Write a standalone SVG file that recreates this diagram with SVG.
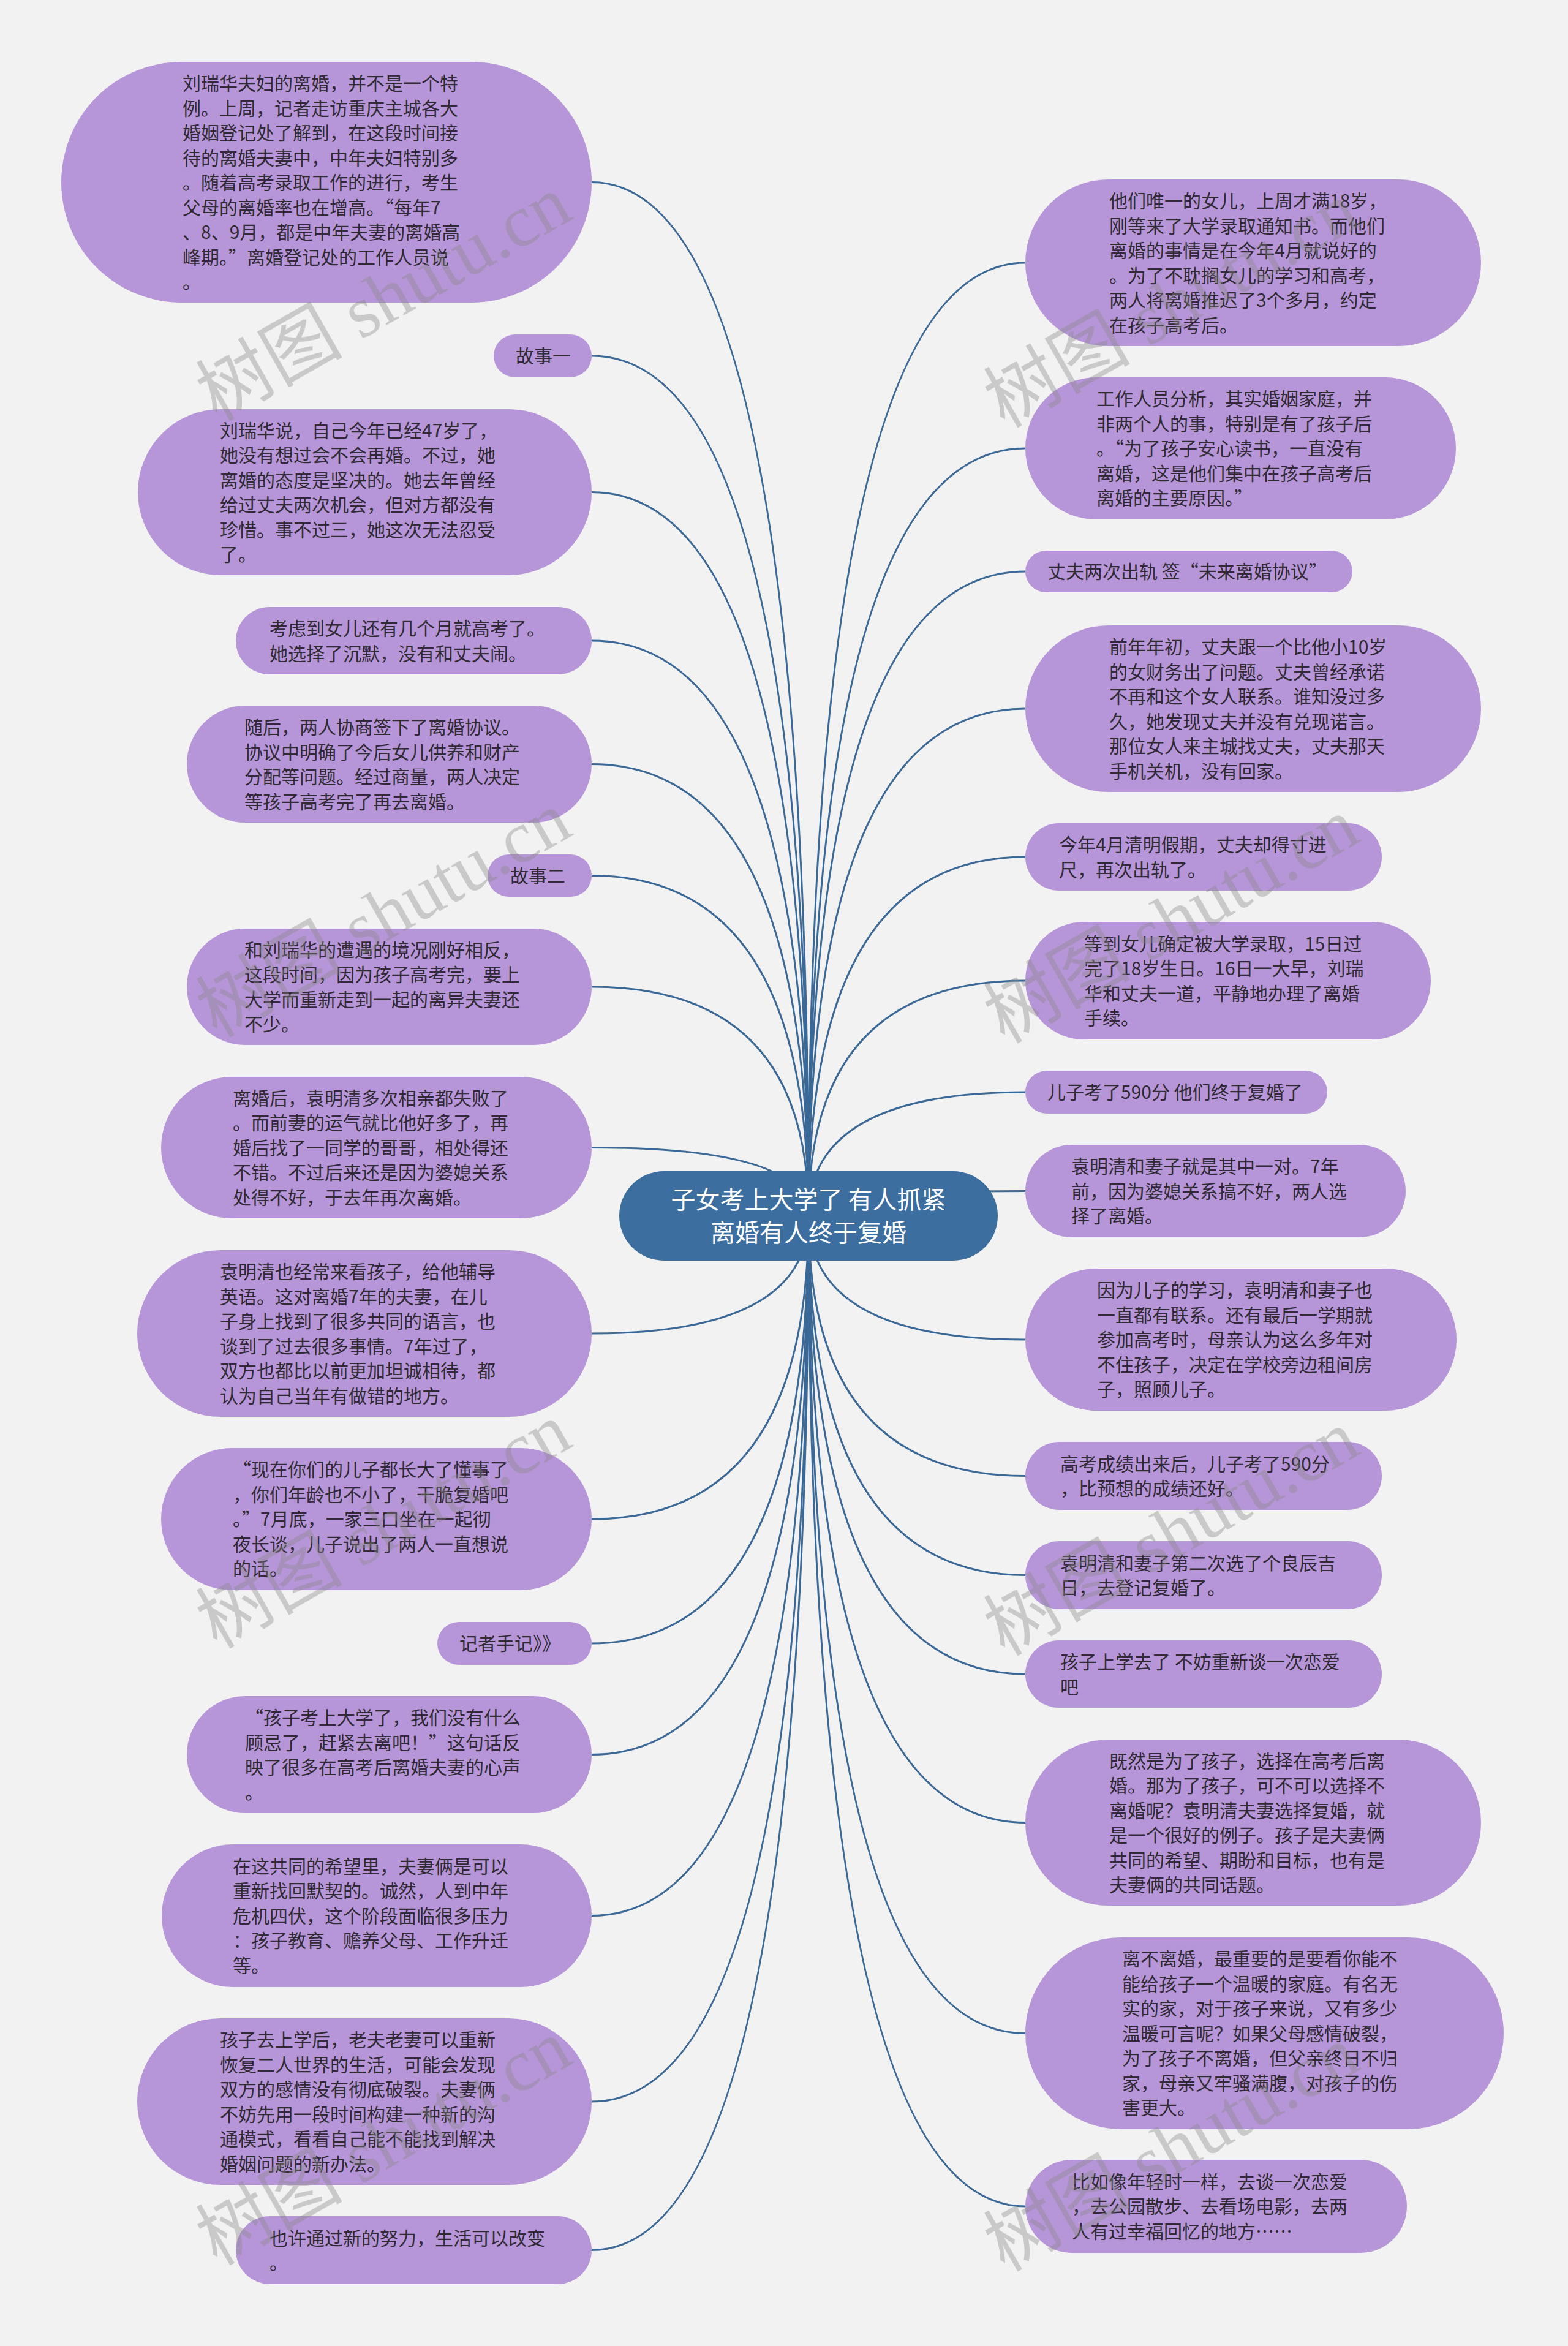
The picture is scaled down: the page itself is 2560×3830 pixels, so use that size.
<svg xmlns="http://www.w3.org/2000/svg" width="2560" height="3830" viewBox="0 0 2560 3830">
<style>
.bg{fill:#f2f2f2}
.n rect{fill:#b696d8}
.n text{font-family:"Noto Sans CJK SC","Microsoft YaHei",sans-serif;font-size:30px;fill:#2f2a33}
.q{font-feature-settings:"fwid" 1}
.root rect{fill:#3c6ea0}
.root text{font-family:"Noto Sans CJK SC","Microsoft YaHei",sans-serif;font-size:40px;fill:#ffffff;text-anchor:middle}
.c path{fill:none;stroke:#3a6897;stroke-width:3}
.wm text{font-family:"Liberation Serif","Noto Sans CJK SC",serif;font-size:120px;fill:#888888;opacity:0.38}
</style>
<rect class="bg" x="0" y="0" width="2560" height="3830"/>
<g id="connectors" class="c">
<path d="M1320 1985 Q1320 297.5 966 297.5"/>
<path d="M1320 1985 Q1320 581 966 581"/>
<path d="M1320 1985 Q1320 803.5 966 803.5"/>
<path d="M1320 1985 Q1320 1046 966 1046"/>
<path d="M1320 1985 Q1320 1247.5 966 1247.5"/>
<path d="M1320 1985 Q1320 1429.5 966 1429.5"/>
<path d="M1320 1985 Q1320 1611 966 1611"/>
<path d="M1320 1985 Q1320 1873.5 966 1873.5"/>
<path d="M1320 1985 Q1320 2177 966 2177"/>
<path d="M1320 1985 Q1320 2480 966 2480"/>
<path d="M1320 1985 Q1320 2683 966 2683"/>
<path d="M1320 1985 Q1320 2864.5 966 2864.5"/>
<path d="M1320 1985 Q1320 3127.5 966 3127.5"/>
<path d="M1320 1985 Q1320 3431 966 3431"/>
<path d="M1320 1985 Q1320 3673.5 966 3673.5"/>
<path d="M1320 1985 Q1320 429 1674 429"/>
<path d="M1320 1985 Q1320 732 1674 732"/>
<path d="M1320 1985 Q1320 933 1674 933"/>
<path d="M1320 1985 Q1320 1157 1674 1157"/>
<path d="M1320 1985 Q1320 1399 1674 1399"/>
<path d="M1320 1985 Q1320 1601 1674 1601"/>
<path d="M1320 1985 Q1320 1783 1674 1783"/>
<path d="M1320 1985 Q1320 1944.5 1674 1944.5"/>
<path d="M1320 1985 Q1320 2187 1674 2187"/>
<path d="M1320 1985 Q1320 2409.5 1674 2409.5"/>
<path d="M1320 1985 Q1320 2571.5 1674 2571.5"/>
<path d="M1320 1985 Q1320 2733 1674 2733"/>
<path d="M1320 1985 Q1320 2975.5 1674 2975.5"/>
<path d="M1320 1985 Q1320 3319.5 1674 3319.5"/>
<path d="M1320 1985 Q1320 3602 1674 3602"/>
</g>

<g id="root" class="root">
<rect x="1011" y="1912" width="618" height="146" rx="73"/>
<text x="1320" y="1973">子女考上大学了 有人抓紧</text>
<text x="1320" y="2027">离婚有人终于复婚</text>
</g>

<g id="L1" class="n"><rect x="100" y="101" width="866" height="393" rx="196.5"/>
<text x="298" y="147"><tspan x="298">刘瑞华夫妇的离婚，并不是一个特</tspan><tspan x="298" dy="40.5">例。上周，记者走访重庆主城各大</tspan><tspan x="298" dy="40.5">婚姻登记处了解到，在这段时间接</tspan><tspan x="298" dy="40.5">待的离婚夫妻中，中年夫妇特别多</tspan><tspan x="298" dy="40.5">。随着高考录取工作的进行，考生</tspan><tspan x="298" dy="40.5">父母的离婚率也在增高。<tspan class="q">“</tspan>每年7</tspan><tspan x="298" dy="40.5">、8、9月，都是中年夫妻的离婚高</tspan><tspan x="298" dy="40.5">峰期。<tspan class="q">”</tspan>离婚登记处的工作人员说</tspan><tspan x="298" dy="40.5">。</tspan></text></g>

<g id="L2" class="n"><rect x="806" y="546" width="160" height="70" rx="35"/>
<text x="842" y="592.4">故事一</text></g>

<g id="L3" class="n"><rect x="225" y="668" width="741" height="271" rx="135.5"/>
<text x="359" y="713.7"><tspan x="359">刘瑞华说，自己今年已经47岁了，</tspan><tspan x="359" dy="40.5">她没有想过会不会再婚。不过，她</tspan><tspan x="359" dy="40.5">离婚的态度是坚决的。她去年曾经</tspan><tspan x="359" dy="40.5">给过丈夫两次机会，但对方都没有</tspan><tspan x="359" dy="40.5">珍惜。事不过三，她这次无法忍受</tspan><tspan x="359" dy="40.5">了。</tspan></text></g>

<g id="L4" class="n"><rect x="385" y="991" width="581" height="110" rx="55"/>
<text x="440" y="1037.2"><tspan x="440">考虑到女儿还有几个月就高考了。</tspan><tspan x="440" dy="40.5">她选择了沉默，没有和丈夫闹。</tspan></text></g>

<g id="L5" class="n"><rect x="305" y="1152" width="661" height="191" rx="95.5"/>
<text x="399" y="1198.2"><tspan x="399">随后，两人协商签下了离婚协议。</tspan><tspan x="399" dy="40.5">协议中明确了今后女儿供养和财产</tspan><tspan x="399" dy="40.5">分配等问题。经过商量，两人决定</tspan><tspan x="399" dy="40.5">等孩子高考完了再去离婚。</tspan></text></g>

<g id="L6" class="n"><rect x="796" y="1395" width="170" height="69" rx="34.5"/>
<text x="833" y="1440.9">故事二</text></g>

<g id="L7" class="n"><rect x="305" y="1516" width="661" height="190" rx="95"/>
<text x="399" y="1561.7"><tspan x="399">和刘瑞华的遭遇的境况刚好相反，</tspan><tspan x="399" dy="40.5">这段时间，因为孩子高考完，要上</tspan><tspan x="399" dy="40.5">大学而重新走到一起的离异夫妻还</tspan><tspan x="399" dy="40.5">不少。</tspan></text></g>

<g id="L8" class="n"><rect x="263" y="1758" width="703" height="231" rx="115.5"/>
<text x="380" y="1803.9"><tspan x="380">离婚后，袁明清多次相亲都失败了</tspan><tspan x="380" dy="40.5">。而前妻的运气就比他好多了，再</tspan><tspan x="380" dy="40.5">婚后找了一同学的哥哥，相处得还</tspan><tspan x="380" dy="40.5">不错。不过后来还是因为婆媳关系</tspan><tspan x="380" dy="40.5">处得不好，于去年再次离婚。</tspan></text></g>

<g id="L9" class="n"><rect x="224" y="2041" width="742" height="272" rx="136"/>
<text x="359" y="2087.2"><tspan x="359">袁明清也经常来看孩子，给他辅导</tspan><tspan x="359" dy="40.5">英语。这对离婚7年的夫妻，在儿</tspan><tspan x="359" dy="40.5">子身上找到了很多共同的语言，也</tspan><tspan x="359" dy="40.5">谈到了过去很多事情。7年过了，</tspan><tspan x="359" dy="40.5">双方也都比以前更加坦诚相待，都</tspan><tspan x="359" dy="40.5">认为自己当年有做错的地方。</tspan></text></g>

<g id="L10" class="n"><rect x="263" y="2364" width="703" height="232" rx="116"/>
<text x="380" y="2410.4"><tspan x="380"><tspan class="q">“</tspan>现在你们的儿子都长大了懂事了</tspan><tspan x="380" dy="40.5">，你们年龄也不小了，干脆复婚吧</tspan><tspan x="380" dy="40.5">。<tspan class="q">”</tspan>7月底，一家三口坐在一起彻</tspan><tspan x="380" dy="40.5">夜长谈，儿子说出了两人一直想说</tspan><tspan x="380" dy="40.5">的话。</tspan></text></g>

<g id="L11" class="n"><rect x="714" y="2648" width="252" height="70" rx="35"/>
<text x="750" y="2694.4">记者手记》》</text></g>

<g id="L12" class="n"><rect x="305" y="2769" width="661" height="191" rx="95.5"/>
<text x="400" y="2815.2"><tspan x="400"><tspan class="q">“</tspan>孩子考上大学了，我们没有什么</tspan><tspan x="400" dy="40.5">顾忌了，赶紧去离吧！<tspan class="q">”</tspan>这句话反</tspan><tspan x="400" dy="40.5">映了很多在高考后离婚夫妻的心声</tspan><tspan x="400" dy="40.5">。</tspan></text></g>

<g id="L13" class="n"><rect x="264" y="3011" width="702" height="233" rx="116.5"/>
<text x="380" y="3057.9"><tspan x="380">在这共同的希望里，夫妻俩是可以</tspan><tspan x="380" dy="40.5">重新找回默契的。诚然，人到中年</tspan><tspan x="380" dy="40.5">危机四伏，这个阶段面临很多压力</tspan><tspan x="380" dy="40.5">：孩子教育、赡养父母、工作升迁</tspan><tspan x="380" dy="40.5">等。</tspan></text></g>

<g id="L14" class="n"><rect x="224" y="3295" width="742" height="272" rx="136"/>
<text x="359" y="3341.2"><tspan x="359">孩子去上学后，老夫老妻可以重新</tspan><tspan x="359" dy="40.5">恢复二人世界的生活，可能会发现</tspan><tspan x="359" dy="40.5">双方的感情没有彻底破裂。夫妻俩</tspan><tspan x="359" dy="40.5">不妨先用一段时间构建一种新的沟</tspan><tspan x="359" dy="40.5">通模式，看看自己能不能找到解决</tspan><tspan x="359" dy="40.5">婚姻问题的新办法。</tspan></text></g>

<g id="L15" class="n"><rect x="385" y="3618" width="581" height="111" rx="55.5"/>
<text x="440" y="3664.7"><tspan x="440">也许通过新的努力，生活可以改变</tspan><tspan x="440" dy="40.5">。</tspan></text></g>

<g id="R1" class="n"><rect x="1674" y="293" width="744" height="272" rx="136"/>
<text x="1811" y="339.2"><tspan x="1811">他们唯一的女儿，上周才满18岁，</tspan><tspan x="1811" dy="40.5">刚等来了大学录取通知书。而他们</tspan><tspan x="1811" dy="40.5">离婚的事情是在今年4月就说好的</tspan><tspan x="1811" dy="40.5">。为了不耽搁女儿的学习和高考，</tspan><tspan x="1811" dy="40.5">两人将离婚推迟了3个多月，约定</tspan><tspan x="1811" dy="40.5">在孩子高考后。</tspan></text></g>

<g id="R2" class="n"><rect x="1674" y="616" width="703" height="232" rx="116"/>
<text x="1790" y="662.4"><tspan x="1790">工作人员分析，其实婚姻家庭，并</tspan><tspan x="1790" dy="40.5">非两个人的事，特别是有了孩子后</tspan><tspan x="1790" dy="40.5">。<tspan class="q">“</tspan>为了孩子安心读书，一直没有</tspan><tspan x="1790" dy="40.5">离婚，这是他们集中在孩子高考后</tspan><tspan x="1790" dy="40.5">离婚的主要原因。<tspan class="q">”</tspan></tspan></text></g>

<g id="R3" class="n"><rect x="1674" y="899" width="534" height="68" rx="34"/>
<text x="1710" y="944.4">丈夫两次出轨 签<tspan class="q">“</tspan>未来离婚协议<tspan class="q">”</tspan></text></g>

<g id="R4" class="n"><rect x="1674" y="1021" width="744" height="272" rx="136"/>
<text x="1811" y="1067.2"><tspan x="1811">前年年初，丈夫跟一个比他小10岁</tspan><tspan x="1811" dy="40.5">的女财务出了问题。丈夫曾经承诺</tspan><tspan x="1811" dy="40.5">不再和这个女人联系。谁知没过多</tspan><tspan x="1811" dy="40.5">久，她发现丈夫并没有兑现诺言。</tspan><tspan x="1811" dy="40.5">那位女人来主城找丈夫，丈夫那天</tspan><tspan x="1811" dy="40.5">手机关机，没有回家。</tspan></text></g>

<g id="R5" class="n"><rect x="1674" y="1344" width="582" height="110" rx="55"/>
<text x="1729" y="1390.2"><tspan x="1729">今年4月清明假期，丈夫却得寸进</tspan><tspan x="1729" dy="40.5">尺，再次出轨了。</tspan></text></g>

<g id="R6" class="n"><rect x="1674" y="1505" width="662" height="192" rx="96"/>
<text x="1770" y="1551.7"><tspan x="1770">等到女儿确定被大学录取，15日过</tspan><tspan x="1770" dy="40.5">完了18岁生日。16日一大早，刘瑞</tspan><tspan x="1770" dy="40.5">华和丈夫一道，平静地办理了离婚</tspan><tspan x="1770" dy="40.5">手续。</tspan></text></g>

<g id="R7" class="n"><rect x="1674" y="1748" width="493" height="70" rx="35"/>
<text x="1710" y="1794.4">儿子考了590分 他们终于复婚了</text></g>

<g id="R8" class="n"><rect x="1674" y="1869" width="621" height="151" rx="75.5"/>
<text x="1749" y="1915.4"><tspan x="1749">袁明清和妻子就是其中一对。7年</tspan><tspan x="1749" dy="40.5">前，因为婆媳关系搞不好，两人选</tspan><tspan x="1749" dy="40.5">择了离婚。</tspan></text></g>

<g id="R9" class="n"><rect x="1674" y="2071" width="704" height="232" rx="116"/>
<text x="1791" y="2117.4"><tspan x="1791">因为儿子的学习，袁明清和妻子也</tspan><tspan x="1791" dy="40.5">一直都有联系。还有最后一学期就</tspan><tspan x="1791" dy="40.5">参加高考时，母亲认为这么多年对</tspan><tspan x="1791" dy="40.5">不住孩子，决定在学校旁边租间房</tspan><tspan x="1791" dy="40.5">子，照顾儿子。</tspan></text></g>

<g id="R10" class="n"><rect x="1674" y="2354" width="582" height="111" rx="55.5"/>
<text x="1731" y="2400.7"><tspan x="1731">高考成绩出来后，儿子考了590分</tspan><tspan x="1731" dy="40.5">，比预想的成绩还好。</tspan></text></g>

<g id="R11" class="n"><rect x="1674" y="2516" width="582" height="111" rx="55.5"/>
<text x="1731" y="2562.7"><tspan x="1731">袁明清和妻子第二次选了个良辰吉</tspan><tspan x="1731" dy="40.5">日，去登记复婚了。</tspan></text></g>

<g id="R12" class="n"><rect x="1674" y="2678" width="582" height="110" rx="55"/>
<text x="1731" y="2724.2"><tspan x="1731">孩子上学去了 不妨重新谈一次恋爱</tspan><tspan x="1731" dy="40.5">吧</tspan></text></g>

<g id="R13" class="n"><rect x="1674" y="2840" width="744" height="271" rx="135.5"/>
<text x="1811" y="2885.7"><tspan x="1811">既然是为了孩子，选择在高考后离</tspan><tspan x="1811" dy="40.5">婚。那为了孩子，可不可以选择不</tspan><tspan x="1811" dy="40.5">离婚呢？袁明清夫妻选择复婚，就</tspan><tspan x="1811" dy="40.5">是一个很好的例子。孩子是夫妻俩</tspan><tspan x="1811" dy="40.5">共同的希望、期盼和目标，也有是</tspan><tspan x="1811" dy="40.5">夫妻俩的共同话题。</tspan></text></g>

<g id="R14" class="n"><rect x="1674" y="3163" width="781" height="313" rx="156.5"/>
<text x="1832" y="3209.4"><tspan x="1832">离不离婚，最重要的是要看你能不</tspan><tspan x="1832" dy="40.5">能给孩子一个温暖的家庭。有名无</tspan><tspan x="1832" dy="40.5">实的家，对于孩子来说，又有多少</tspan><tspan x="1832" dy="40.5">温暖可言呢？如果父母感情破裂，</tspan><tspan x="1832" dy="40.5">为了孩子不离婚，但父亲终日不归</tspan><tspan x="1832" dy="40.5">家，母亲又牢骚满腹，对孩子的伤</tspan><tspan x="1832" dy="40.5">害更大。</tspan></text></g>

<g id="R15" class="n"><rect x="1674" y="3526" width="623" height="152" rx="76"/>
<text x="1750" y="3572.9"><tspan x="1750">比如像年轻时一样，去谈一次恋爱</tspan><tspan x="1750" dy="40.5">，去公园散步、去看场电影，去两</tspan><tspan x="1750" dy="40.5">人有过幸福回忆的地方……</tspan></text></g>

<g id="watermarks" class="wm">
<text x="354" y="689" transform="rotate(-29.7 354 689)">树图 shutu.cn</text>
<text x="354" y="1695" transform="rotate(-29.7 354 1695)">树图 shutu.cn</text>
<text x="354" y="2693" transform="rotate(-29.7 354 2693)">树图 shutu.cn</text>
<text x="354" y="3700" transform="rotate(-29.7 354 3700)">树图 shutu.cn</text>
<text x="1640" y="700" transform="rotate(-29.7 1640 700)">树图 shutu.cn</text>
<text x="1640" y="1705" transform="rotate(-29.7 1640 1705)">树图 shutu.cn</text>
<text x="1640" y="2705" transform="rotate(-29.7 1640 2705)">树图 shutu.cn</text>
<text x="1640" y="3710" transform="rotate(-29.7 1640 3710)">树图 shutu.cn</text>
</g>
</svg>
